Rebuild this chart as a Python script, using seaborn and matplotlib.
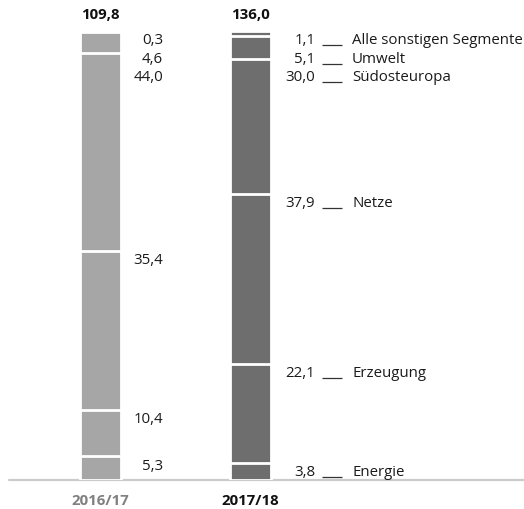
import matplotlib
matplotlib.use("Agg")
import matplotlib.pyplot as plt
import seaborn as sns
import numpy as np
import pandas as pd

years = ["2016/17", "2017/18"]
totals = [109.8, 136.0]
segments = ["Energie", "Erzeugung", "Netze", "Südosteuropa", "Umwelt", "Alle sonstigen Segmente"]
share_1617 = [5.3, 10.4, 35.4, 44.0, 4.6, 0.3]
share_1718 = [3.8, 22.1, 37.9, 30.0, 5.1, 1.1]

bar_colors = ["#a6a6a6", "#6e6e6e"]
year_label_colors = ["#808080", "#111111"]
text_color = "#1a1a1a"

sns.set_theme(style="white")
plt.rcParams["font.family"] = ["Open Sans", "DejaVu Sans"]
FS = 10.8

fig = plt.figure(figsize=(5.24, 5.10), dpi=100)
ax = fig.add_axes([9 / 524, 29 / 510, 515 / 524, 449 / 510])

shares = [share_1617, share_1718]
rows = []
for yi, yr in enumerate(years):
    cum = np.cumsum(shares[yi])
    for si, seg in enumerate(segments):
        rows.append({"year": yr, "segment": seg, "share": shares[yi][si], "cum": cum[si], "order": si})
df = pd.DataFrame(rows)

# draw cumulative bars from top segment down so each overlays the previous
for si in reversed(range(len(segments))):
    sub = df[df["order"] == si]
    sns.barplot(data=sub, x="year", y="cum", hue="year", palette=bar_colors,
                order=years, hue_order=years, width=0.273, ax=ax,
                edgecolor="white", linewidth=2, legend=False, zorder=3)

ax.axhline(0, color="#cbcbcb", lw=1.6, zorder=1, clip_on=False)
ax.set_xlim(-0.61, 2.823)
ax.set_ylim(0, 100)
ax.set_axis_off()

def label_positions(vals):
    cum = np.cumsum(vals)
    pos = [None] * len(vals)
    prev = None
    for i in reversed(range(len(vals))):
        p = cum[i] - 2.0
        if prev is not None:
            p = min(p, prev - 4.1)
        pos[i] = p
        prev = p
    return pos

fmt = lambda v: f"{v:.1f}".replace(".", ",")

num_offsets = [0.417, 0.43]
for yi in range(len(years)):
    pos = label_positions(shares[yi])
    for si, v in enumerate(shares[yi]):
        ax.text(yi + num_offsets[yi], pos[si], fmt(v), ha="right", va="center",
                fontsize=FS, color=text_color)
        if yi == 1:
            ax.plot([yi + 0.477, yi + 0.613], [pos[si] - 1.2, pos[si] - 1.2],
                    color="#333333", lw=0.9, solid_capstyle="butt")
            ax.text(yi + 0.677, pos[si], segments[si], ha="left", va="center",
                    fontsize=FS, color=text_color)
    ax.annotate(fmt(totals[yi]), xy=(yi, 100), xytext=(0, 12.5), textcoords="offset points",
                ha="center", va="center", fontsize=FS, fontweight="bold", color="#111111",
                annotation_clip=False)
    ax.annotate(years[yi], xy=(yi, 0), xytext=(0, -14.5), textcoords="offset points",
                ha="center", va="center", fontsize=FS, fontweight="bold",
                color=year_label_colors[yi], annotation_clip=False)

fig.savefig("out.png", dpi=100)
